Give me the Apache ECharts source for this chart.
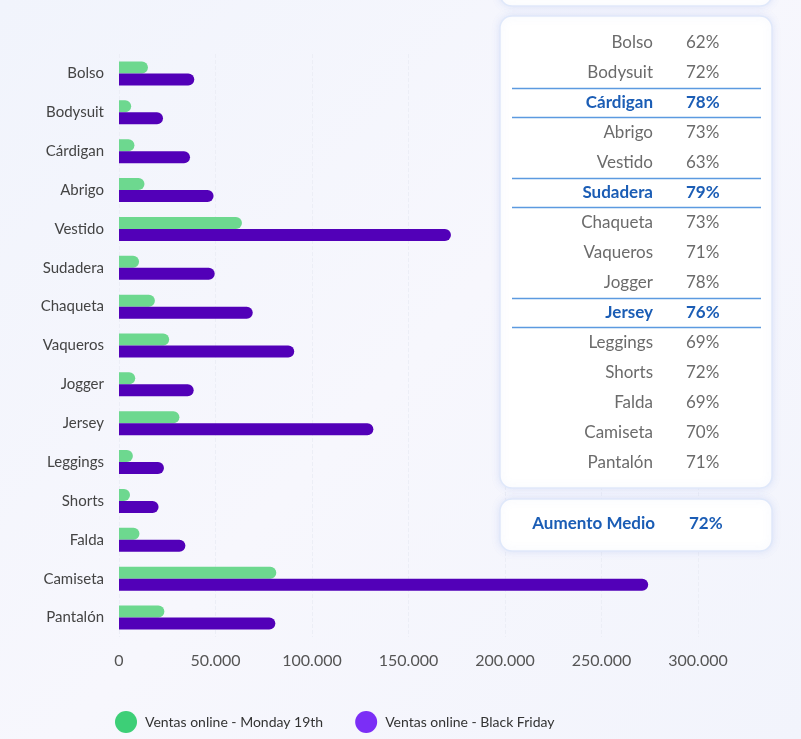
<!DOCTYPE html>
<html>
<head>
<meta charset="utf-8">
<title>Ventas online</title>
<script src="https://cdn.jsdelivr.net/npm/echarts@6/dist/echarts.min.js"></script>
<style>
  html, body { margin: 0; padding: 0; background: #f3f5fc; }
  #chart { width: 801px; height: 739px; }
</style>
</head>
<body>
<div id="chart"></div>
<script>
var categorias = ['Bolso','Bodysuit','Cárdigan','Abrigo','Vestido','Sudadera','Chaqueta','Vaqueros','Jogger','Jersey','Leggings','Shorts','Falda','Camiseta','Pantalón'];
var monday19 = [15000, 6300, 8000, 13200, 63700, 10400, 18600, 26000, 8400, 31300, 7200, 5700, 10600, 81500, 23500];
var blackFriday = [39000, 22800, 36800, 49000, 172000, 49600, 69300, 90800, 38700, 131800, 23300, 20500, 34400, 274200, 81000];
var aumento = [62, 72, 78, 73, 63, 79, 73, 71, 78, 76, 69, 72, 69, 70, 71];
var destacados = ['Cárdigan', 'Sudadera', 'Jersey'];
var aumentoMedio = 72;
var xTicks = [0, 50000, 100000, 150000, 200000, 250000, 300000];

function miles(v) {
    return String(v).replace(/\B(?=(\d{3})+(?!\d))/g, '.');
}

function panel() {
    var g = [];
    var box = { fill: '#ffffff', stroke: '#dfe8fa', lineWidth: 1.5, shadowBlur: 8, shadowColor: 'rgba(120,150,230,0.18)' };
    g.push({ type: 'rect', shape: { x: 500, y: -30, width: 272, height: 36, r: 12 }, style: box, z: 1 });
    g.push({ type: 'rect', shape: { x: 500, y: 16, width: 272, height: 472, r: 12 }, style: box, z: 1 });
    g.push({ type: 'rect', shape: { x: 500, y: 499, width: 272, height: 52, r: 12 }, style: box, z: 1 });
    for (var i = 0; i < categorias.length; i++) {
        var y = 43 + 30 * i;
        var hi = destacados.indexOf(categorias[i]) >= 0;
        var font = (hi ? 'bold ' : '') + '17px Lato';
        var color = hi ? '#1b5db5' : '#6b6b6b';
        g.push({ type: 'text', x: 653, y: y, z: 3, style: { text: categorias[i], font: font, fill: color, align: 'right', verticalAlign: 'middle' } });
        g.push({ type: 'text', x: 686, y: y, z: 3, style: { text: aumento[i] + '%', font: font, fill: color, align: 'left', verticalAlign: 'middle' } });
        if (hi) {
            g.push({ type: 'line', z: 3, shape: { x1: 512, y1: y - 14.5, x2: 761, y2: y - 14.5 }, style: { stroke: '#5c9ae0', lineWidth: 1.5 } });
            g.push({ type: 'line', z: 3, shape: { x1: 512, y1: y + 14.5, x2: 761, y2: y + 14.5 }, style: { stroke: '#5c9ae0', lineWidth: 1.5 } });
        }
    }
    g.push({ type: 'text', x: 655, y: 524, z: 3, style: { text: 'Aumento Medio', font: 'bold 17px Lato', fill: '#1b5db5', align: 'right', verticalAlign: 'middle' } });
    g.push({ type: 'text', x: 689, y: 524, z: 3, style: { text: aumentoMedio + '%', font: 'bold 17px Lato', fill: '#1b5db5', align: 'left', verticalAlign: 'middle' } });
    return g;
}

var dom = document.getElementById('chart');
var myChart = echarts.init(dom);
var option = {
    backgroundColor: {
        type: 'linear', x: 0, y: 0, x2: 1, y2: 1,
        colorStops: [{ offset: 0, color: '#f1f4fc' }, { offset: 0.5, color: '#f7f7fd' }, { offset: 1, color: '#f2f4fc' }]
    },
    textStyle: { fontFamily: 'Lato' },
    animation: false,
    grid: { left: 119, top: 54, width: 579, height: 583, containLabel: false },
    legend: {
        left: 110,
        top: 706,
        icon: 'circle',
        itemWidth: 22,
        itemHeight: 22,
        itemGap: 32,
        textStyle: { fontSize: 14, color: '#333', fontFamily: 'Lato', padding: [0, 0, 0, 3] },
        data: [
            { name: 'Ventas online - Monday 19th', itemStyle: { color: '#3dcf77' } },
            { name: 'Ventas online - Black Friday', itemStyle: { color: '#7b2ef6' } }
        ]
    },
    xAxis: {
        type: 'value',
        min: xTicks[0],
        max: xTicks[xTicks.length - 1],
        interval: xTicks[1] - xTicks[0],
        axisLine: { show: false },
        axisTick: { show: false },
        splitLine: { show: true, lineStyle: { color: '#eceef6', type: 'dashed' } },
        axisLabel: { color: '#555', fontSize: 16, margin: 16, formatter: miles }
    },
    yAxis: {
        type: 'category',
        inverse: true,
        data: categorias,
        axisLine: { show: false },
        axisTick: { show: false },
        axisLabel: { color: '#444', fontSize: 15, margin: 15 }
    },
    series: [
        {
            name: 'Ventas online - Monday 19th',
            type: 'bar',
            data: monday19,
            barWidth: 12,
            barGap: '0%',
            itemStyle: { color: '#6dd88f', borderRadius: [0, 6, 6, 0] }
        },
        {
            name: 'Ventas online - Black Friday',
            type: 'bar',
            data: blackFriday,
            barWidth: 12,
            barGap: '0%',
            itemStyle: { color: '#5200b8', borderRadius: [0, 6, 6, 0] }
        }
    ],
    graphic: panel()
};
if (option && typeof option === 'object') {
    myChart.setOption(option, true);
}
</script>
</body>
</html>
